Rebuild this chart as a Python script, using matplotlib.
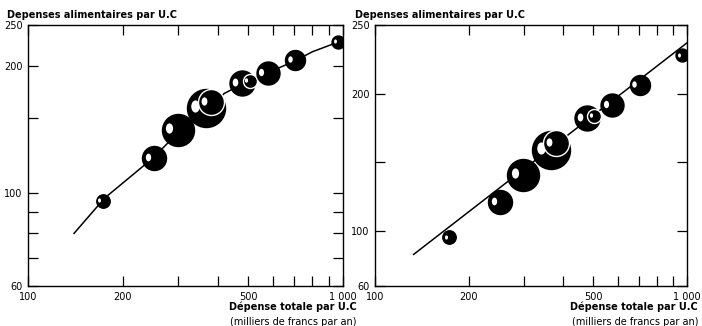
import matplotlib
matplotlib.use('Agg')
import matplotlib.pyplot as plt
from matplotlib.markers import MarkerStyle
from matplotlib.transforms import Affine2D, offset_copy
import numpy as np

# donnees : depense totale par U.C (milliers de francs) et depense alimentaire par U.C
dep_totale = [173, 252, 299, 367, 381, 478, 505, 577, 705, 965]
dep_alim = [95.5, 121, 141, 159, 164, 182, 184, 192, 206, 228]
poids = [45, 144, 256, 361, 169, 156, 49, 132, 100, 42]   # surface relative des bulles
# bulles posees par-dessus une autre (liseré blanc)
dessus = [False, False, False, False, True, False, True, False, False, False]

# courbe ajustee (graphique de gauche, log-log)
courbe_x = [140, 175, 250, 300, 370, 420, 500, 580, 700, 800, 1000]
courbe_y = [80, 97, 121, 139, 157, 172, 184, 193, 205, 216, 230]
# droite ajustee (graphique de droite, semi-log)
droite_x = [133, 1000]
droite_y = [83, 237]

xticks = [100, 200, 300, 400, 500, 600, 700, 800, 900, 1000]
xlabels = ['100', '200', '', '', '500', '', '', '', '', '1 000']
yticks_g = [60, 70, 80, 90, 100, 150, 200, 250]
ylabels_g = ['60', '', '', '', '100', '', '200', '250']
yticks_d = [60, 100, 150, 200, 250]
ylabels_d = ['60', '100', '', '200', '250']

fig = plt.figure(figsize=(7.02, 3.26), dpi=100)
ax1 = fig.add_axes([28/702., 40/326., 315/702., 261/326.])
ax2 = fig.add_axes([375/702., 40/326., 312/702., 261/326.])


def bulles(ax):
    for i in range(len(dep_totale)):
        r = np.sqrt(poids[i])          # rayon en pixels
        d = 1.44 * r                   # diametre en points
        ec = 'white' if dessus[i] else 'black'
        ax.scatter(dep_totale[i], dep_alim[i], s=d**2, c='black',
                   edgecolors=ec, linewidths=1.0, zorder=3 + i)
        tr = offset_copy(ax.transData, fig=fig, x=-0.55*r*0.72, y=0.1*r*0.72,
                         units='points')
        m = MarkerStyle('o', transform=Affine2D().scale(0.7, 1.0))
        ax.scatter(dep_totale[i], dep_alim[i], s=(0.32*d)**2, c='white',
                   marker=m, linewidths=0, transform=tr, zorder=3 + i)


def habillage(ax, yt, yl):
    ax.set_xscale('log')
    ax.set_xlim(100, 1000)
    ax.set_ylim(60, 250)
    ax.set_xticks(xticks)
    ax.set_xticklabels(xlabels)
    ax.set_yticks(yt)
    ax.set_yticklabels(yl)
    ax.xaxis.set_minor_locator(matplotlib.ticker.NullLocator())
    ax.yaxis.set_minor_locator(matplotlib.ticker.NullLocator())
    ax.tick_params(direction='in', length=7, width=0.9, top=True, right=True,
                   labelsize=7, pad=4)
    for s in ax.spines.values():
        s.set_linewidth(1.0)


# gauche : echelles logarithmiques
ax1.plot(courbe_x, courbe_y, c='black', lw=1.1, zorder=2)
bulles(ax1)
ax1.set_yscale('log')
habillage(ax1, yticks_g, ylabels_g)

# droite : abscisse logarithmique, ordonnee lineaire
ax2.plot(droite_x, droite_y, c='black', lw=1.1, zorder=2)
bulles(ax2)
habillage(ax2, yticks_d, ylabels_d)

for x0, x1 in [(7, 357), (355, 698)]:
    fig.text(x0/702., 1 - 15/326., 'Depenses alimentaires par U.C',
             fontsize=7, fontweight='bold', va='center', ha='left')
    fig.text(x1/702., 1 - 307/326., 'Dépense totale par U.C',
             fontsize=7, fontweight='bold', va='center', ha='right')
    fig.text(x1/702., 1 - 322/326., '(milliers de francs par an)',
             fontsize=7, va='center', ha='right')

plt.savefig('out.png', dpi=100)
